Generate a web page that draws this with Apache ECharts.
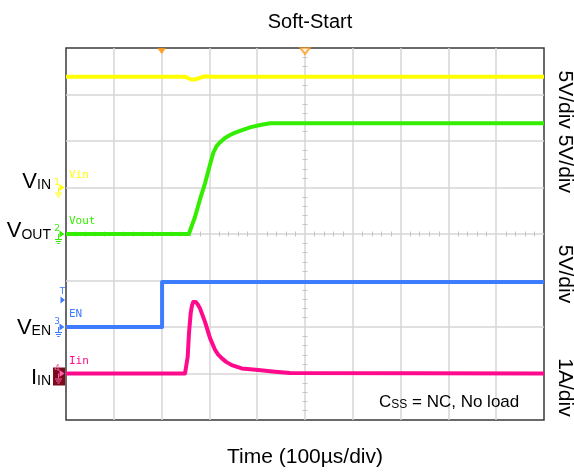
<!DOCTYPE html>
<html><head><meta charset="utf-8">
<script src="https://cdn.jsdelivr.net/npm/echarts@6/dist/echarts.min.js"></script>
<style>html,body{margin:0;padding:0;background:#fff}#c{width:574px;height:474px}</style>
</head><body><div id="c"></div>
<script>
// ---- scope settings (divisions) ----
const channelNames   = ['Vin', 'Vout', 'EN', 'Iin'];
const channelDigits  = ['1', '2', '3', '4'];
const channelOffsets = [5, 4, 2, 1];      // ground position, divisions from bottom
const channelScales  = [5, 5, 5, 1];      // V/div, V/div, V/div, A/div
const scaleLabels    = ['5V/div 5V/div', '5V/div', '1A/div'];
const triggerTimes   = [200];             // µs, filled marker
const centerTimes    = [500];             // µs, hollow marker
const enTriggerLevel = 2.9;               // V

// ---- traces (time in µs, values in V or A) ----
const vinT  = [0, 250, 256, 263, 270, 277, 290, 305, 1000];
const vinV  = [11.9, 11.9, 11.75, 11.6, 11.6, 11.75, 11.95, 11.9, 11.9];

const voutT = [0, 257, 260, 270, 280, 291, 301, 308, 315, 322, 332, 343, 354, 364, 385, 406, 427, 1000];
const voutV = [0, 0, 0.2, 1.86, 3.66, 5.48, 7.42, 8.71, 9.46, 9.84, 10.3, 10.65, 10.9, 11.1, 11.47, 11.72, 11.9, 11.9];

const enT   = [0, 201, 201, 1000];
const enV   = [0, 0, 4.85, 4.85];

const iinT  = [0, 249, 254.6, 257.3, 260.9, 263.5, 266.3, 268.8, 271.3, 275.5, 280.3, 290.8, 301.3, 311.7, 318, 325.7, 335, 346.7, 367.6, 402.3, 437.2, 468.6, 1000];
const iinA  = [0, 0, 0.36, 0.87, 1.30, 1.46, 1.54, 1.56, 1.54, 1.49, 1.40, 1.11, 0.76, 0.51, 0.41, 0.33, 0.25, 0.18, 0.11, 0.075, 0.04, 0.01, 0];

const colors = ['#ffff00', '#33ee00', '#3d7bff', '#ff0a8c'];
const FONT = "'Liberation Sans', Arial, sans-serif";

function toDiv(ts, vs, ch) {
  return ts.map((t, i) => [t, channelOffsets[ch] + vs[i] / channelScales[ch]]);
}
const traces = [toDiv(vinT, vinV, 0), toDiv(voutT, voutV, 1), toDiv(enT, enV, 2), toDiv(iinT, iinA, 3)];

const chart = echarts.init(document.getElementById('c'), null, {renderer: 'canvas'});

const centerAxisCommon = {
  type: 'value', min: 0, gridIndex: 0,
  axisLine: {show: false}, axisLabel: {show: false}, splitLine: {show: false},
  axisTick: {show: false, length: 2.5, lineStyle: {color: '#c4c4c4', width: 1}},
  minorTick: {show: true, splitNumber: 5, length: 2.5, lineStyle: {color: '#c4c4c4', width: 1}}
};

const option = {
  animation: false,
  backgroundColor: '#fff',
  title: {
    text: 'Soft-Start', left: 305, top: 7, textAlign: 'center',
    textStyle: {fontFamily: FONT, fontSize: 20, fontWeight: 'normal', color: '#000'}
  },
  grid: {left: 66, right: 30, top: 48, bottom: 54, show: true, borderColor: '#3a3a3a', borderWidth: 1.5, backgroundColor: 'transparent'},
  xAxis: [
    {
      type: 'value', min: 0, max: 1000, interval: 100,
      name: 'Time (100µs/div)', nameLocation: 'middle', nameGap: 27,
      nameTextStyle: {fontFamily: FONT, fontSize: 21, color: '#000'},
      axisLine: {show: false}, axisTick: {show: false}, axisLabel: {show: false},
      splitLine: {show: true, showMinLine: false, showMaxLine: false, lineStyle: {color: '#d6d6d6', width: 1.5}}
    },
    Object.assign({}, centerAxisCommon, {max: 1000, interval: 100, position: 'bottom', offset: -186, axisTick: Object.assign({}, centerAxisCommon.axisTick, {inside: true})}),
    Object.assign({}, centerAxisCommon, {max: 1000, interval: 100, position: 'bottom', offset: -186, axisTick: Object.assign({}, centerAxisCommon.axisTick, {inside: false})})
  ],
  yAxis: [
    {
      type: 'value', min: 0, max: 8, interval: 1,
      axisLine: {show: false}, axisTick: {show: false}, axisLabel: {show: false},
      splitLine: {show: true, showMinLine: false, showMaxLine: false, lineStyle: {color: '#d6d6d6', width: 1.5}}
    },
    Object.assign({}, centerAxisCommon, {max: 8, interval: 1, position: 'left', offset: -239, axisTick: Object.assign({}, centerAxisCommon.axisTick, {inside: true})}),
    Object.assign({}, centerAxisCommon, {max: 8, interval: 1, position: 'left', offset: -239, axisTick: Object.assign({}, centerAxisCommon.axisTick, {inside: false})})
  ],
  series: [
    ...traces.map((d, i) => ({
      type: 'line', name: channelNames[i], data: d, showSymbol: false, symbol: 'none',
      smooth: false,
      lineStyle: {color: colors[i], width: 4, join: 'round'}, z: 3 + i, clip: false
    })),
    {
      type: 'scatter', data: triggerTimes.map(t => [t, 8]), symbol: 'triangle', symbolRotate: 180,
      symbolSize: [9, 6], symbolOffset: [0, 3], itemStyle: {color: '#ff8c00'}, z: 10, clip: false, silent: true
    },
    {
      type: 'scatter', data: centerTimes.map(t => [t, 8]), symbol: 'emptyTriangle', symbolRotate: 180,
      symbolSize: [9, 6], symbolOffset: [0, 3], itemStyle: {color: '#ff9a1a', borderWidth: 1.2}, z: 10, clip: false, silent: true
    }
  ]
};
chart.setOption(option);

// ---- annotations ----
function py(level) { return chart.convertToPixel({gridIndex: 0}, [0, level])[1]; }
const g = [];
const labelDy = [-7, -4, -0.5, 3];
const subs = ['IN', 'OUT', 'EN', 'IN'];
const mainLetters = ['V', 'V', 'V', 'I'];
channelNames.forEach((name, i) => {
  const gy = py(channelOffsets[i]);
  g.push({
    type: 'text', z: 20,
    style: {
      text: '{a|' + mainLetters[i] + '}{b|' + subs[i] + '}', x: 51, y: gy + labelDy[i],
      align: 'right', verticalAlign: 'middle',
      rich: {
        a: {fontFamily: FONT, fontSize: 22, fill: '#000', verticalAlign: 'bottom', lineHeight: 24},
        b: {fontFamily: FONT, fontSize: 14, fill: '#000', verticalAlign: 'bottom', lineHeight: 24}
      }
    }
  });
  g.push({
    type: 'text', z: 20,
    style: {text: name, x: 69, y: gy - 7, align: 'left', verticalAlign: 'bottom',
            font: "11px 'DejaVu Sans Mono', monospace", fill: colors[i]}
  });
  const mc = i === 3 ? '#ff5fa8' : colors[i];
  if (i === 3) {
    g.push({type: 'rect', z: 19, shape: {x: 53, y: gy - 6, width: 12, height: 18}, style: {fill: '#7a0a1c'}});
  }
  g.push({type: 'text', z: 21, style: {text: channelDigits[i], x: 57, y: gy - 0.5, align: 'center', verticalAlign: 'bottom', font: "9px 'DejaVu Sans', sans-serif", fill: mc}});
  g.push({type: 'polygon', z: 21, shape: {points: [[59.5, gy - 3.5], [64.5, gy], [59.5, gy + 3.5]]}, style: {fill: mc}});
  g.push({type: 'polyline', z: 21, shape: {points: [[58.5, gy], [58.5, gy + 5]]}, style: {stroke: mc, lineWidth: 1, fill: null}});
  [[5.5, 3.5], [7.5, 2.5], [9.5, 1.2]].forEach(([dy, hw]) => {
    g.push({type: 'polyline', z: 21, shape: {points: [[58.5 - hw, gy + dy], [58.5 + hw, gy + dy]]}, style: {stroke: mc, lineWidth: 1, fill: null}});
  });
});
const ty = py(channelOffsets[2] + enTriggerLevel / channelScales[2]);
g.push({type: 'text', z: 21, style: {text: 'T', x: 62.5, y: ty - 4, align: 'center', verticalAlign: 'bottom', font: "9px 'DejaVu Sans', sans-serif", fill: colors[2]}});
g.push({type: 'polygon', z: 21, shape: {points: [[60.5, ty - 3.5], [65, ty], [60.5, ty + 3.5]]}, style: {fill: colors[2]}});

const rightCenters = [(py(channelOffsets[0]) + py(channelOffsets[1])) / 2 - 79, py(channelOffsets[2]) - 53, py(channelOffsets[3]) + 14];
scaleLabels.forEach((t, i) => {
  g.push({
    type: 'text', z: 20, x: 565, y: rightCenters[i], rotation: -Math.PI / 2,
    style: {text: t, x: 0, y: 0, align: 'center', verticalAlign: 'middle', font: '21px ' + FONT, fill: '#000'}
  });
});
g.push({
  type: 'text', z: 20,
  style: {
    text: '{a|C}{b|SS}{a| = NC, No load}', x: 379, y: 401, align: 'left', verticalAlign: 'middle',
    rich: {
      a: {fontFamily: FONT, fontSize: 17, fill: '#000', verticalAlign: 'bottom', lineHeight: 20},
      b: {fontFamily: FONT, fontSize: 12, fill: '#000', verticalAlign: 'bottom', lineHeight: 20}
    }
  }
});
chart.setOption({graphic: {elements: g}});
</script>
</body></html>
